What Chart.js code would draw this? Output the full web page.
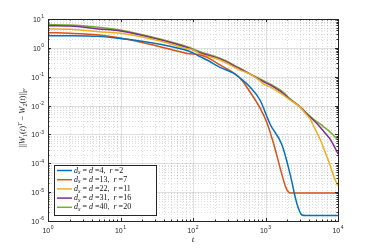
<!DOCTYPE html>
<html>
<head>
<meta charset="utf-8">
<script src="https://cdn.jsdelivr.net/npm/chart.js@4.4.1/dist/chart.umd.min.js"></script>
<style>
  html, body { margin: 0; padding: 0; background: #fff; }
  #wrap { width: 374px; height: 249px; }
</style>
</head>
<body>
<div id="wrap"><canvas id="chart" width="374" height="249"></canvas></div>
<script>
// values (t on a log axis, ||W1^T - W2||_F on a log axis)
const tBlue = [1, 2, 5, 10, 15, 35, 83, 100, 125, 156, 236, 356, 445, 611, 839, 1153, 1690, 2180, 2720, 3190, 3600, 10000];
const vBlue = [2.65, 2.64, 2.5, 2.1, 1.88, 1.33, 0.81, 0.67, 0.5, 0.38, 0.21, 0.135, 0.09, 0.044, 0.0156, 2.3e-3, 4.3e-4, 4.3e-5, 3.9e-6, 1.62e-6, 1.56e-6, 1.56e-6];

const tRed = [1, 2, 5, 10, 15, 35, 60, 83, 125, 156, 236, 445, 611, 839, 1049, 1310, 1690, 1920, 2180, 2500, 10000];
const vRed = [3.36, 3.2, 2.8, 2.2, 1.8, 1.1, 0.78, 0.64, 0.57, 0.47, 0.255, 0.09, 0.0296, 8.3e-3, 2.5e-3, 4.3e-4, 3.95e-5, 1.4e-5, 9.4e-6, 9.3e-6, 9.3e-6];

const tYellow = [1, 2, 5, 10, 35, 83, 100, 125, 236, 445, 611, 839, 984, 1153, 1743, 2180, 2990, 3500, 4110, 4820, 5650, 6620, 7760, 8810, 10000];
const vYellow = [4.52, 4.4, 3.64, 3.2, 1.73, 0.94, 0.85, 0.62, 0.38, 0.17, 0.125, 0.0713, 0.0518, 0.0442, 0.0233, 0.0157, 8.96e-3, 5.55e-3, 3.44e-3, 1.55e-3, 6.97e-4, 2.47e-4, 8.8e-5, 3.36e-5, 1.64e-5];

const tPurple = [1, 2, 5, 10, 35, 83, 125, 236, 445, 611, 839, 1153, 1743, 2180, 2990, 3500, 4110, 5080, 5650, 6620, 7760, 8810, 10000];
const vPurple = [5.88, 5.7, 4.52, 3.85, 1.92, 1.03, 0.68, 0.41, 0.186, 0.125, 0.0772, 0.0518, 0.0267, 0.0163, 8.96e-3, 6.0e-3, 4.03e-3, 2.44e-3, 1.82e-3, 1.12e-3, 6.97e-4, 3.99e-4, 2.1e-4];

const tGreen = [1, 2, 5, 10, 35, 83, 125, 236, 445, 611, 839, 1153, 1743, 2180, 2990, 3500, 4110, 5080, 5650, 6620, 7760, 8810, 10000];
const vGreen = [6.37, 6.2, 5.17, 4.17, 2.03, 1.1, 0.74, 0.436, 0.196, 0.125, 0.0836, 0.0561, 0.0296, 0.017, 9.3e-3, 6.25e-3, 4.37e-3, 2.77e-3, 2.31e-3, 1.68e-3, 1.22e-3, 8.86e-4, 6.44e-4];

const legendDims = [4, 13, 22, 31, 40];
const legendRanks = [2, 7, 11, 16, 20];
const lineColors = ["#0072BD", "#D95319", "#EDB120", "#7E2F8E", "#77AC30"];

const xTickExps = [0, 1, 2, 3, 4];
const yTickExps = [1, 0, -1, -2, -3, -4, -5, -6];

const INK = "#262626";
const SERIF = "'Liberation Serif', 'DejaVu Serif', serif";
const SANS = "'Liberation Sans', Arial, sans-serif";

function makeDataset(ts, vs, color) {
  return {
    data: ts.map((t, i) => ({ x: t, y: vs[i] })),
    borderColor: color,
    backgroundColor: color,
    borderWidth: 1.5,
    pointRadius: 0,
    showLine: true,
    fill: false,
    cubicInterpolationMode: "monotone",
  };
}

// draws a row of text pieces, some sub- or superscripted
function drawRuns(ctx, runs, x, y, size, measureOnly) {
  let cx = x;
  runs.forEach((run) => {
    const small = run.sub || run.sup;
    const fs = small ? size * 0.7 : size;
    ctx.font = (run.it ? "italic " : "") + fs + "px " + SERIF;
    let dy = 0;
    if (run.sub) dy = size * 0.28;
    if (run.sup) dy = -size * 0.38;
    if (!measureOnly) ctx.fillText(run.t, cx, y + dy);
    cx += ctx.measureText(run.t).width;
  });
  return cx - x;
}

function drawPower(ctx, exp, x, y, align) {
  const base = "10";
  const sup = exp < 0 ? "-" + Math.abs(exp) : String(exp);
  ctx.font = "7px " + SANS;
  const wb = ctx.measureText(base).width;
  ctx.font = "5px " + SANS;
  const ws = ctx.measureText(sup).width;
  const total = wb + ws + 0.5;
  let left = x;
  if (align === "right") left = x - total;
  if (align === "center") left = x - total / 2;
  ctx.textBaseline = "middle";
  ctx.textAlign = "left";
  ctx.font = "7px " + SANS;
  ctx.fillText(base, left, y);
  ctx.font = "5px " + SANS;
  ctx.fillText(sup, left + wb + 0.5, y - 3);
}

const matlabFrame = {
  id: "matlabFrame",
  beforeDatasetsDraw(chart) {
    const { ctx, chartArea: a, scales } = chart;
    const xs = scales.x, ys = scales.y;
    ctx.save();
    ctx.lineWidth = 1;
    // minor dotted grid
    ctx.strokeStyle = "rgba(38,38,38,0.16)";
    ctx.setLineDash([1, 2]);
    for (let e = xTickExps[0]; e < xTickExps[xTickExps.length - 1]; e++) {
      for (let k = 2; k <= 9; k++) {
        const px = Math.round(xs.getPixelForValue(k * Math.pow(10, e))) + 0.5;
        ctx.beginPath(); ctx.moveTo(px, a.top); ctx.lineTo(px, a.bottom); ctx.stroke();
      }
    }
    for (let e = yTickExps[yTickExps.length - 1]; e < yTickExps[0]; e++) {
      for (let k = 2; k <= 9; k++) {
        const py = Math.round(ys.getPixelForValue(k * Math.pow(10, e))) + 0.5;
        ctx.beginPath(); ctx.moveTo(a.left, py); ctx.lineTo(a.right, py); ctx.stroke();
      }
    }
    // major solid grid
    ctx.setLineDash([]);
    ctx.strokeStyle = "rgba(38,38,38,0.15)";
    xTickExps.forEach((e) => {
      const px = Math.round(xs.getPixelForValue(Math.pow(10, e))) + 0.5;
      ctx.beginPath(); ctx.moveTo(px, a.top); ctx.lineTo(px, a.bottom); ctx.stroke();
    });
    yTickExps.forEach((e) => {
      const py = Math.round(ys.getPixelForValue(Math.pow(10, e))) + 0.5;
      ctx.beginPath(); ctx.moveTo(a.left, py); ctx.lineTo(a.right, py); ctx.stroke();
    });
    ctx.restore();
  },
  afterDatasetsDraw(chart) {
    const { ctx, chartArea: a, scales } = chart;
    const xs = scales.x, ys = scales.y;
    ctx.save();
    ctx.strokeStyle = INK;
    ctx.fillStyle = INK;
    ctx.lineWidth = 1;
    ctx.setLineDash([]);

    // box
    ctx.strokeRect(Math.round(a.left) + 0.5, Math.round(a.top) + 0.5,
      Math.round(a.right - a.left), Math.round(a.bottom - a.top));

    // inward ticks on all sides
    const tick = (px, len, vertical) => {
      ctx.beginPath();
      if (vertical) {
        ctx.moveTo(px, a.bottom); ctx.lineTo(px, a.bottom - len);
        ctx.moveTo(px, a.top); ctx.lineTo(px, a.top + len);
      } else {
        ctx.moveTo(a.left, px); ctx.lineTo(a.left + len, px);
        ctx.moveTo(a.right, px); ctx.lineTo(a.right - len, px);
      }
      ctx.stroke();
    };
    for (let e = xTickExps[0]; e <= xTickExps[xTickExps.length - 1]; e++) {
      tick(Math.round(xs.getPixelForValue(Math.pow(10, e))) + 0.5, 3, true);
      if (e < xTickExps[xTickExps.length - 1]) {
        for (let k = 2; k <= 9; k++) tick(Math.round(xs.getPixelForValue(k * Math.pow(10, e))) + 0.5, 1.5, true);
      }
    }
    for (let e = yTickExps[yTickExps.length - 1]; e <= yTickExps[0]; e++) {
      tick(Math.round(ys.getPixelForValue(Math.pow(10, e))) + 0.5, 3, false);
      if (e < yTickExps[0]) {
        for (let k = 2; k <= 9; k++) tick(Math.round(ys.getPixelForValue(k * Math.pow(10, e))) + 0.5, 1.5, false);
      }
    }

    // tick labels
    xTickExps.forEach((e) => drawPower(ctx, e, xs.getPixelForValue(Math.pow(10, e)), a.bottom + 10, "center"));
    yTickExps.forEach((e) => drawPower(ctx, e, a.left - 4, ys.getPixelForValue(Math.pow(10, e)) + 1, "right"));

    // axis titles
    ctx.textBaseline = "alphabetic";
    ctx.font = "italic 9px " + SERIF;
    ctx.textAlign = "center";
    ctx.fillText("t", (a.left + a.right) / 2, a.bottom + 21);
    ctx.textAlign = "left";

    const yRuns = [
      { t: "||" }, { t: "W", it: true }, { t: "1", sub: true }, { t: "(" }, { t: "t", it: true }, { t: ")" },
      { t: "T", sup: true, it: true }, { t: " \u2212 " }, { t: "W", it: true }, { t: "2", sub: true },
      { t: "(" }, { t: "t", it: true }, { t: ")||" }, { t: "F", sub: true, it: true },
    ];
    ctx.save();
    ctx.translate(25, 118);
    ctx.rotate(-Math.PI / 2);
    const w = drawRuns(ctx, yRuns, 0, 0, 8.5, true);
    drawRuns(ctx, yRuns, -w / 2, 0, 8.5, false);
    ctx.restore();

    // legend box
    const lx = 54.5, ly = 165.5, lw = 102, lh = 50;
    ctx.fillStyle = "#fff";
    ctx.fillRect(lx, ly, lw, lh);
    ctx.strokeStyle = INK;
    ctx.strokeRect(lx, ly, lw, lh);
    legendDims.forEach((dim, i) => {
      const ry = 170.5 + i * 9.2;
      ctx.strokeStyle = lineColors[i];
      ctx.lineWidth = 1.5;
      ctx.beginPath(); ctx.moveTo(57, ry); ctx.lineTo(72, ry); ctx.stroke();
      ctx.fillStyle = "#111";
      ctx.textBaseline = "middle";
      const runs = [
        { t: "d", it: true }, { t: "x", sub: true, it: true }, { t: " = " }, { t: "d", it: true },
        { t: " =" + dim + ",  " }, { t: "r", it: true }, { t: " =" + legendRanks[i] },
      ];
      drawRuns(ctx, runs, 74, ry, 8, false);
    });
    ctx.restore();
  },
};

new Chart(document.getElementById("chart"), {
  type: "scatter",
  data: {
    datasets: [
      makeDataset(tBlue, vBlue, lineColors[0]),
      makeDataset(tRed, vRed, lineColors[1]),
      makeDataset(tYellow, vYellow, lineColors[2]),
      makeDataset(tPurple, vPurple, lineColors[3]),
      makeDataset(tGreen, vGreen, lineColors[4]),
    ],
  },
  options: {
    responsive: false,
    animation: false,
    layout: { padding: { left: 48, right: 36, top: 19, bottom: 28 } },
    plugins: { legend: { display: false }, tooltip: { enabled: false } },
    scales: {
      x: { type: "logarithmic", min: 1, max: 10000, display: false },
      y: { type: "logarithmic", min: 1e-6, max: 10, display: false },
    },
  },
  plugins: [matlabFrame],
});
</script>
</body>
</html>
